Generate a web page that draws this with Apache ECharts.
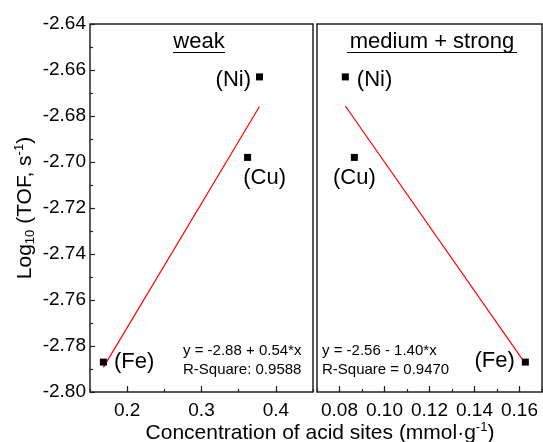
<!DOCTYPE html>
<html>
<head>
<meta charset="utf-8">
<script src="https://cdn.jsdelivr.net/npm/echarts@6/dist/echarts.min.js"></script>
<style>
  html, body { margin: 0; padding: 0; background: #fff; }
  #chart { width: 543px; height: 442px; }
</style>
</head>
<body>
<div id="chart"></div>
<script>
// Catalyst metals and their turnover frequencies (log10, s^-1)
const metals = ['Ni', 'Cu', 'Fe'];
const logTOF = [-2.663, -2.698, -2.787];

// Acid-site concentrations (mmol/g) for each metal
const weakSites = [0.378, 0.362, 0.168];
const mediumStrongSites = [0.0826, 0.0866, 0.1626];

// Linear fits: [intercept, slope]
const weakFit = [-2.88, 0.54];
const mediumStrongFit = [-2.56, -1.40];
const weakFitText = ['y = -2.88 + 0.54*x', 'R-Square: 0.9588'];
const mediumStrongFitText = ['y = -2.56 - 1.40*x', 'R-Square = 0.9470'];

// Axis ranges and labelled ticks
const yRange = [-2.80, -2.64];
const weakXRange = [0.15, 0.45];
const weakXTicks = [0.2, 0.3, 0.4];
const mediumStrongXRange = [0.07, 0.17];
const mediumStrongXTicks = [0.08, 0.10, 0.12, 0.14, 0.16];

const FONT = '"Liberation Sans", Arial, sans-serif';
const AXIS_COLOR = '#222';

function fitLine(xs, fit) {
  const lo = Math.min(...xs), hi = Math.max(...xs);
  return [[lo, fit[0] + fit[1] * lo], [hi, fit[0] + fit[1] * hi]];
}

// label placement around each marker, per panel
const weakLabelPos = {
  Ni: { position: 'left', distance: 5, offset: [0, 3] },
  Cu: { position: 'bottom', distance: 6, offset: [17, 0] },
  Fe: { position: 'right', distance: 7, offset: [0, 0] }
};
const msLabelPos = {
  Ni: { position: 'right', distance: 8, offset: [0, 3] },
  Cu: { position: 'bottom', distance: 6, offset: [0, 0] },
  Fe: { position: 'left', distance: 7, offset: [0, -1] }
};

function points(xs, placement) {
  return metals.map((m, i) => ({
    name: m,
    value: [xs[i], logTOF[i]],
    label: Object.assign({ show: true, formatter: '(' + m + ')' }, placement[m])
  }));
}

function majorXAxis(grid, range, ticks, digits) {
  return {
    type: 'value', gridIndex: grid, position: 'bottom',
    min: range[0], max: range[1],
    axisLine: { show: false, onZero: false },
    axisTick: { show: true, inside: true, length: 6, customValues: ticks,
      lineStyle: { color: AXIS_COLOR, width: 1.2 } },
    axisLabel: { show: true, customValues: ticks, margin: 9, color: '#000',
      fontSize: 19, fontFamily: FONT, formatter: v => v.toFixed(digits) },
    splitLine: { show: false }
  };
}
function minorXAxis(grid, range, step) {
  return {
    type: 'value', gridIndex: grid, position: 'bottom',
    min: range[0], max: range[1], interval: step,
    axisLine: { show: false, onZero: false },
    axisTick: { show: true, inside: true, length: 3,
      lineStyle: { color: AXIS_COLOR, width: 1.2 } },
    axisLabel: { show: false },
    splitLine: { show: false }
  };
}

const scatterBase = {
  type: 'scatter', symbol: 'rect', symbolSize: 7,
  itemStyle: { color: '#000', opacity: 1 },
  label: { color: '#000', fontSize: 22, fontFamily: FONT },
  z: 3
};

const chart = echarts.init(document.getElementById('chart'));
chart.setOption({
  animation: false,
  backgroundColor: '#fff',
  textStyle: { fontFamily: FONT },
  grid: [
    { left: 90, top: 24, width: 223, height: 368, show: true,
      borderColor: AXIS_COLOR, borderWidth: 1.5 },
    { left: 317, top: 24, width: 225, height: 368, show: true,
      borderColor: AXIS_COLOR, borderWidth: 1.5 }
  ],
  xAxis: [
    majorXAxis(0, weakXRange, weakXTicks, 1),
    minorXAxis(0, weakXRange, 0.05),
    majorXAxis(1, mediumStrongXRange, mediumStrongXTicks, 2),
    minorXAxis(1, mediumStrongXRange, 0.01)
  ],
  yAxis: [
    {
      type: 'value', gridIndex: 0,
      min: yRange[0], max: yRange[1], interval: 0.02,
      axisLine: { show: false },
      axisTick: { show: true, inside: true, length: 5,
        lineStyle: { color: AXIS_COLOR, width: 1.2 } },
      minorTick: { show: true, splitNumber: 2, length: 3,
        lineStyle: { color: AXIS_COLOR, width: 1.2 } },
      axisLabel: { color: '#000', fontSize: 19, fontFamily: FONT, margin: 4,
        formatter: v => v.toFixed(2) },
      splitLine: { show: false },
      name: 'Log{sub|10} (TOF, s{sup|-1})',
      nameLocation: 'middle', nameRotate: 90, nameGap: 53,
      nameTextStyle: {
        color: '#000', fontSize: 21, fontFamily: FONT, lineHeight: 24,
        rich: {
          sub: { fontSize: 13, lineHeight: 13, verticalAlign: 'bottom', color: '#000' },
          sup: { fontSize: 13, lineHeight: 13, verticalAlign: 'top', color: '#000' }
        }
      }
    },
    {
      type: 'value', gridIndex: 1,
      min: yRange[0], max: yRange[1], interval: 0.02,
      axisLine: { show: false }, axisTick: { show: false },
      axisLabel: { show: false }, splitLine: { show: false }
    }
  ],
  series: [
    {
      type: 'line', xAxisIndex: 0, yAxisIndex: 0,
      data: fitLine(weakSites, weakFit), showSymbol: false, silent: true,
      lineStyle: { color: '#ff0000', width: 1.2 }, z: 2
    },
    {
      type: 'line', xAxisIndex: 2, yAxisIndex: 1,
      data: fitLine(mediumStrongSites, mediumStrongFit), showSymbol: false, silent: true,
      lineStyle: { color: '#ff0000', width: 1.2 }, z: 2
    },
    Object.assign({}, scatterBase, {
      xAxisIndex: 0, yAxisIndex: 0, data: points(weakSites, weakLabelPos)
    }),
    Object.assign({}, scatterBase, {
      xAxisIndex: 2, yAxisIndex: 1, data: points(mediumStrongSites, msLabelPos)
    })
  ],
  graphic: [
    // panel titles with underline
    { type: 'text', x: 199, y: 42, style: { text: 'weak', fill: '#000',
      font: '22px ' + FONT, align: 'center', verticalAlign: 'middle' } },
    { type: 'line', shape: { x1: 173, y1: 52.5, x2: 225, y2: 52.5 },
      style: { stroke: '#000', lineWidth: 1 } },
    { type: 'text', x: 432, y: 42, style: { text: 'medium + strong', fill: '#000',
      font: '22px ' + FONT, align: 'center', verticalAlign: 'middle' } },
    { type: 'line', shape: { x1: 347, y1: 52.5, x2: 517, y2: 52.5 },
      style: { stroke: '#000', lineWidth: 1 } },
    // fit annotations
    { type: 'text', x: 183, y: 341, style: { text: weakFitText.join('\n'), fill: '#000',
      font: '15px ' + FONT, lineHeight: 19, align: 'left', verticalAlign: 'top' } },
    { type: 'text', x: 322, y: 341, style: { text: mediumStrongFitText.join('\n'), fill: '#000',
      font: '15px ' + FONT, lineHeight: 19, align: 'left', verticalAlign: 'top' } },
    // shared x axis title
    { type: 'text', x: 320, y: 433, style: {
      text: 'Concentration of acid sites (mmol\u00b7g{sup|-1})', fill: '#000',
      fontSize: 21, fontFamily: FONT, lineHeight: 24, align: 'center', verticalAlign: 'middle',
      rich: { sup: { fontSize: 13, lineHeight: 13, verticalAlign: 'top', fill: '#000' } } } }
  ]
});
</script>
</body>
</html>
